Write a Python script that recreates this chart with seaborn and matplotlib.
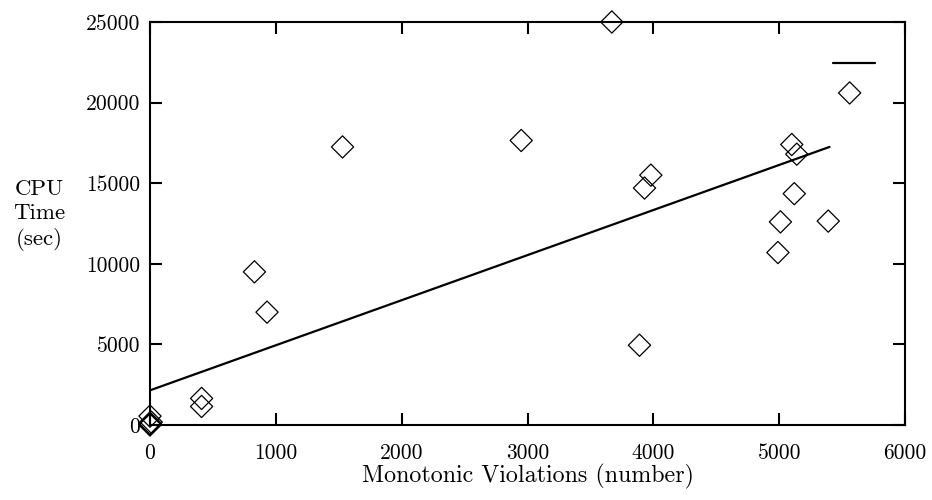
import matplotlib
matplotlib.use("Agg")
import matplotlib.pyplot as plt
import seaborn as sns
import pandas as pd
from matplotlib.lines import Line2D

violations = [0, 0, 0, 10, 0, 410, 410, 830, 930, 1530, 2950, 3670, 3890, 3930, 3980,
              4990, 5010, 5100, 5120, 5140, 5390, 5560]
cpu_time = [0, 60, 120, 180, 550, 1650, 1150, 9500, 7000, 17250, 17650, 25000, 4950, 14700, 15500,
            10700, 12600, 17400, 14350, 16800, 12650, 20600]
fit_x = [0, 5400]
fit_y = [2150, 17250]

x_ticks = [0, 1000, 2000, 3000, 4000, 5000, 6000]
y_ticks = [0, 5000, 10000, 15000, 20000, 25000]

sns.set_theme(style="white")
plt.rcParams['font.family'] = ['cmr10', 'DejaVu Serif']
plt.rcParams['axes.formatter.use_mathtext'] = True
plt.rcParams['text.color'] = 'black'
plt.rcParams['axes.labelcolor'] = 'black'

FS = 15.5

fig = plt.figure(figsize=(9.32, 5.0), dpi=100)
ax = fig.add_axes([150/932, 1-425/500, 755/932, 403/500])

df = pd.DataFrame({"x": violations, "y": cpu_time})
fit = pd.DataFrame({"x": fit_x, "y": fit_y})

sns.lineplot(data=fit, x="x", y="y", ax=ax, color="black", lw=1.6, zorder=2)
sns.scatterplot(data=df, x="x", y="y", ax=ax, marker="D", s=128, facecolors="none",
                edgecolor="black", linewidth=0.9, clip_on=False, zorder=3)

ax.set_xlim(0, 6000)
ax.set_ylim(0, 25000)
ax.set_xticks(x_ticks)
ax.set_yticks(y_ticks)
ax.set_xticklabels([str(t) for t in x_ticks])
ax.set_yticklabels([str(t) for t in y_ticks])
ax.tick_params(direction="in", length=8.6, width=1.5, top=True, right=True,
               bottom=True, left=True, labelsize=FS, colors="black")
ax.tick_params(axis="x", pad=13)
ax.tick_params(axis="y", pad=7)
for sp in ax.spines.values():
    sp.set_linewidth(1.5)
    sp.set_color("black")
ax.set_xlabel("Monotonic Violations (number)", fontsize=FS + 1.8, labelpad=1, color="black")
ax.set_ylabel("")
fig.text(39/932, 1-215/500, "CPU\nTime\n(sec)", fontsize=16.5, ha="center", va="center",
         multialignment="center", linespacing=1.3, color="black")

leg = ax.legend(handles=[Line2D([], [], color="black", lw=1.6)], labels=[""],
                loc="center right", bbox_to_anchor=(0.960, 0.894), frameon=False,
                handlelength=1.96, handletextpad=0.0, borderpad=0.0, borderaxespad=0.0,
                fontsize=FS)

fig.savefig("out.png", dpi=100)
